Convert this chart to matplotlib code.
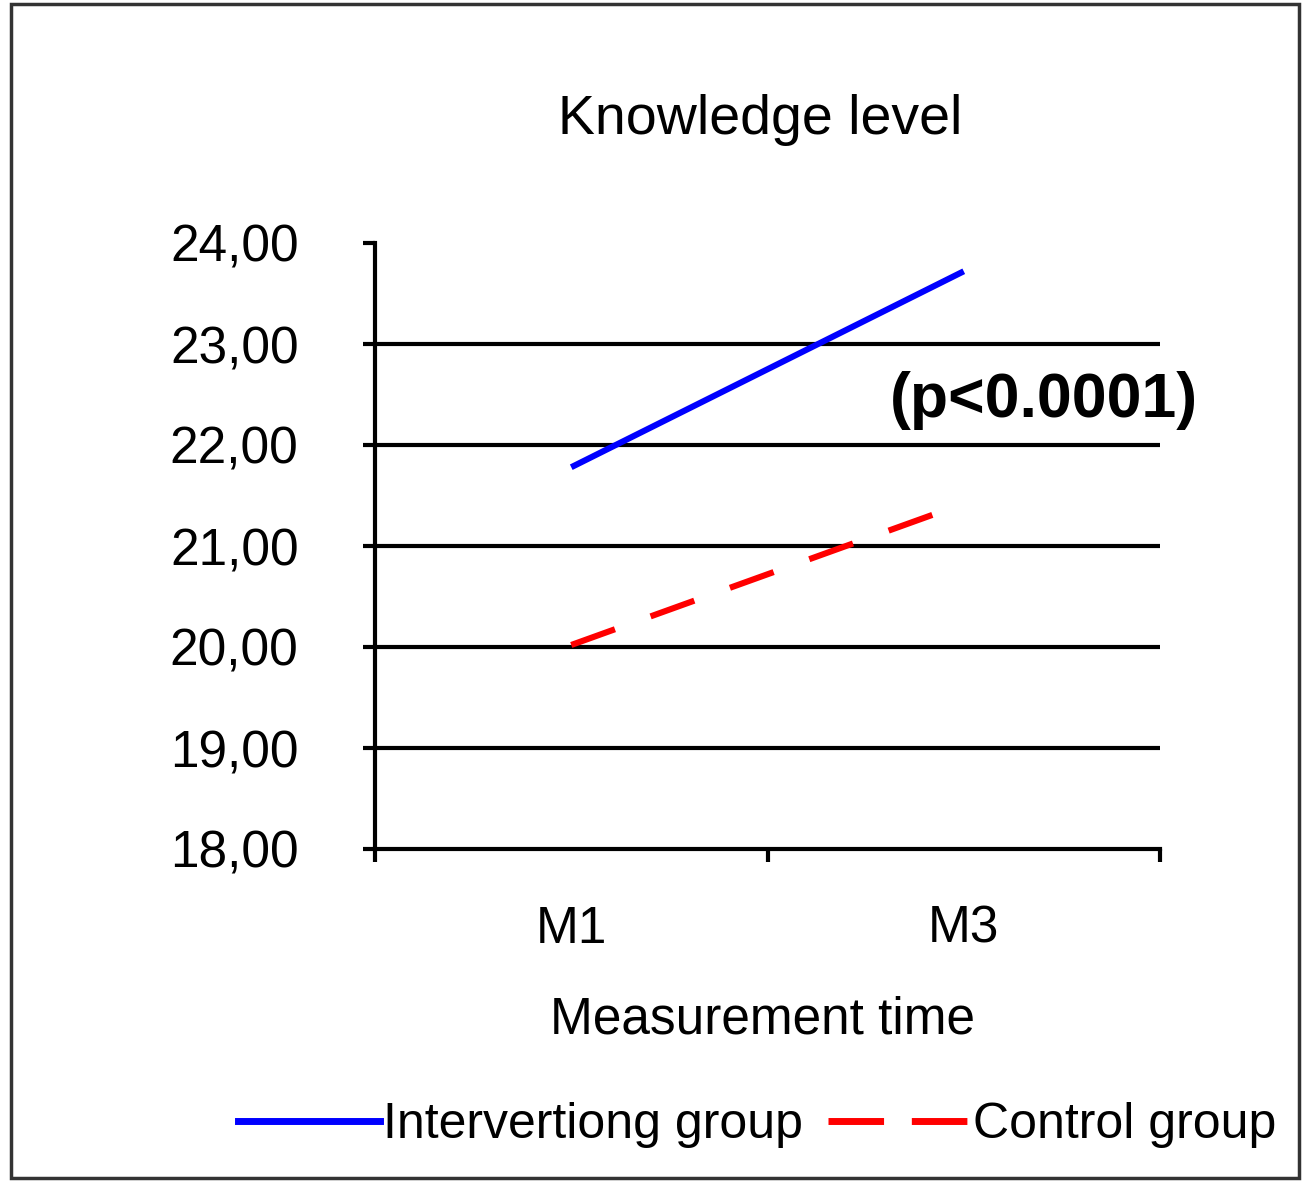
import matplotlib
matplotlib.use("Agg")
import matplotlib.pyplot as plt
from matplotlib.lines import Line2D
from matplotlib.patches import Rectangle
from matplotlib.ticker import FuncFormatter

# data
times = ["M1", "M3"]
intervention = [21.78, 23.72]
control = [20.02, 21.42]
y_ticks = [18, 19, 20, 21, 22, 23, 24]

plt.rcParams["font.family"] = ["Liberation Sans", "DejaVu Sans"]

fig = plt.figure(figsize=(13.05, 11.81), dpi=100)
ax = fig.add_axes([375 / 1305, 1 - 849 / 1181, (1160 - 375) / 1305, (849 - 243) / 1181])

xpos = [0.5, 1.5]
ax.plot(xpos, intervention, color="#0000FF", lw=4.4, solid_capstyle="butt", zorder=3)
ax.plot(xpos, control, color="#FF0000", lw=4.4, dashes=(7.6, 6.2), zorder=3)

# gridlines only between the outer ticks
ax.hlines(y_ticks[1:-1], 0, 2, color="black", lw=3, zorder=2)

ax.set_xlim(0, 2)
ax.set_ylim(y_ticks[0], y_ticks[-1])
ax.set_yticks(y_ticks)
ax.yaxis.set_major_formatter(FuncFormatter(lambda v, p: f"{v:.2f}".replace(".", ",")))
ax.set_xticks([0, 1, 2])
ax.set_xticklabels([])
ax.set_xticks(xpos, minor=True)
ax.set_xticklabels(times, minor=True)
ax.tick_params(axis="x", which="major", direction="out", length=9, width=3)
ax.tick_params(axis="x", which="minor", length=0, pad=40, labelsize=37)
ax.tick_params(axis="y", direction="out", length=9, width=3, pad=46, labelsize=37)

for s in ["top", "right"]:
    ax.spines[s].set_visible(False)
for s in ["left", "bottom"]:
    ax.spines[s].set_linewidth(3)

fig.text(760 / 1305, 1 - 120 / 1181, "Knowledge level", ha="center", va="center", fontsize=40)
fig.text(762 / 1305, 1 - 1020 / 1181, "Measurement time", ha="center", va="center", fontsize=37)
fig.text(890 / 1305, 1 - 400 / 1181, "(p<0.0001)", ha="left", va="center",
         fontsize=45, fontweight="bold")

handles = [Line2D([], [], color="#0000FF", lw=5),
           Line2D([], [], color="#FF0000", lw=5, dashes=(8, 4))]
fig.legend(handles, ["Intervertiong group", "Control group"], loc="center",
           bbox_to_anchor=(757 / 1305, 1 - 1125 / 1181), ncol=2, frameon=False,
           fontsize=36, handlelength=2.85, handletextpad=0.05, columnspacing=0.5)

fig.patches.append(Rectangle((11 / 1305, 3 / 1181), 1288 / 1305, 1174 / 1181,
                             transform=fig.transFigure, fill=False, ec="#333333", lw=2.5))

fig.savefig("out.png", dpi=100)
